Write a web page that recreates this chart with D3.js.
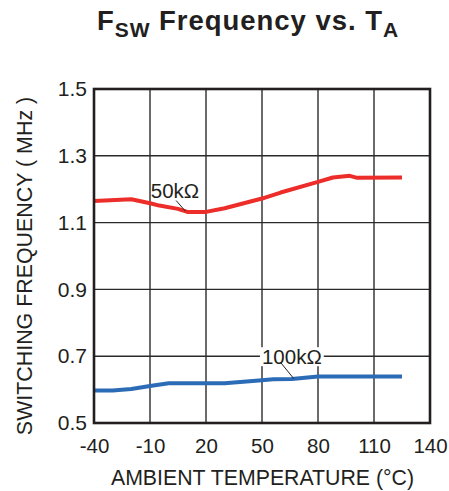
<!DOCTYPE html>
<html><head><meta charset="utf-8">
<script src="https://cdn.jsdelivr.net/npm/d3@7"></script>
<style>body{margin:0;background:#fff}svg{display:block}text{font-family:"Liberation Sans",Arial,sans-serif;fill:#231f20}</style>
</head><body>
<svg id="c" width="449" height="491"></svg>
<script>
const xTicks = [-40, -10, 20, 50, 80, 110, 140];
const yTicks = [0.5, 0.7, 0.9, 1.1, 1.3, 1.5];
const temp50k = [-40, -20, -10, -5, 5, 10, 20, 30, 50, 60, 80, 88, 97, 101, 125];
const freq50k = [1.165, 1.17, 1.158, 1.151, 1.141, 1.132, 1.132, 1.143, 1.172, 1.19, 1.222, 1.235, 1.240, 1.234, 1.235];
const temp100k = [-40, -30, -20, -10, 0, 30, 50, 56, 66, 80, 125];
const freq100k = [0.597, 0.597, 0.602, 0.611, 0.619, 0.619, 0.628, 0.631, 0.632, 0.639, 0.639];
const seriesLabels = ["50kΩ", "100kΩ"];

const svg = d3.select("#c");
const L = 94, R = 430, T = 89, B = 423;
const x = d3.scaleLinear().domain([-40, 140]).range([L, R]);
const y = d3.scaleLinear().domain([0.5, 1.5]).range([B, T]);
const FS = 20.5;

// gridlines
const g = svg.append("g");
g.selectAll("line.v").data(xTicks.slice(1, -1)).join("line")
  .attr("x1", d => x(d)).attr("x2", d => x(d)).attr("y1", T).attr("y2", B)
  .attr("stroke", "#2b2b2b").attr("stroke-width", 1.4);
g.selectAll("line.h").data(yTicks.slice(1, -1)).join("line")
  .attr("y1", d => y(d)).attr("y2", d => y(d)).attr("x1", L).attr("x2", R)
  .attr("stroke", "#2b2b2b").attr("stroke-width", 1.4);

// axes tick labels
const xAxis = d3.axisBottom(x).tickValues(xTicks).tickSize(0).tickPadding(15).tickFormat(d => String(d));
const xa = svg.append("g").attr("transform", `translate(0,${B})`).call(xAxis);
xa.select(".domain").remove();
xa.selectAll("text").attr("font-size", FS).attr("font-family", '"Liberation Sans",Arial,sans-serif').attr("fill", "#231f20");

const yAxis = d3.axisLeft(y).tickValues(yTicks).tickSize(0).tickPadding(7).tickFormat(d3.format(".1f"));
const ya = svg.append("g").attr("transform", `translate(${L},0)`).call(yAxis);
ya.select(".domain").remove();
ya.selectAll("text").attr("font-size", 21).attr("font-family", '"Liberation Sans",Arial,sans-serif').attr("fill", "#231f20");

// lines
const line = d3.line().x(d => x(d[0])).y(d => y(d[1]));
const d50 = temp50k.map((t, i) => [t, freq50k[i]]);
const d100 = temp100k.map((t, i) => [t, freq100k[i]]);

// label 100k with white background
const bgRect = svg.append("rect").attr("fill", "#fff");
const lab100 = svg.append("text").attr("x", x(66)).attr("y", y(0.7) + 8).attr("text-anchor", "middle")
  .attr("font-size", FS).text(seriesLabels[1]);
const bb = lab100.node().getBBox();
bgRect.attr("x", bb.x - 2).attr("y", bb.y + 2).attr("width", bb.width + 4).attr("height", bb.height - 4);

svg.append("path").datum(d50).attr("d", line).attr("fill", "none").attr("stroke", "#ec2d2a").attr("stroke-width", 4).attr("stroke-linejoin", "round");
svg.append("path").datum(d100).attr("d", line).attr("fill", "none").attr("stroke", "#2c6bb5").attr("stroke-width", 4).attr("stroke-linejoin", "round");

svg.append("text").attr("x", x(-10) + 25).attr("y", y(1.18) + 2).attr("text-anchor", "middle")
  .attr("font-size", FS).text(seriesLabels[0]);

// leader lines
svg.append("line").attr("x1", x(4)).attr("y1", y(1.166)).attr("x2", x(9)).attr("y2", y(1.134)).attr("stroke", "#231f20").attr("stroke-width", 1);
svg.append("line").attr("x1", x(60)).attr("y1", y(0.681)).attr("x2", x(67)).attr("y2", y(0.633)).attr("stroke", "#231f20").attr("stroke-width", 1);

// frame
svg.append("rect").attr("x", L).attr("y", T).attr("width", R - L).attr("height", B - T)
  .attr("fill", "none").attr("stroke", "#231f20").attr("stroke-width", 2.6);

// title
const title = svg.append("text").attr("x", 97).attr("y", 30).attr("text-anchor", "start")
  .attr("font-size", 27.5).attr("font-weight", "bold");
title.append("tspan").text("F");
title.append("tspan").attr("font-size", 21).attr("dy", 7).text("SW");
title.append("tspan").attr("dy", -7).text(" Frequency vs. T");
title.append("tspan").attr("font-size", 21).attr("dy", 7).text("A");
{
  const w = title.node().getBBox().width;
  const n = title.text().length;
  title.attr("letter-spacing", ((301 - w) / (n - 1)).toFixed(2));
}

// axis titles
svg.append("text").attr("x", 262.5).attr("y", 484.5).attr("text-anchor", "middle").attr("font-size", 21.3)
  .text("AMBIENT TEMPERATURE (°C)");
svg.append("text").attr("transform", "translate(31.5,266) rotate(-90)").attr("text-anchor", "middle").attr("font-size", 21.4)
  .text("SWITCHING FREQUENCY ( MHz )");
</script>
</body></html>
